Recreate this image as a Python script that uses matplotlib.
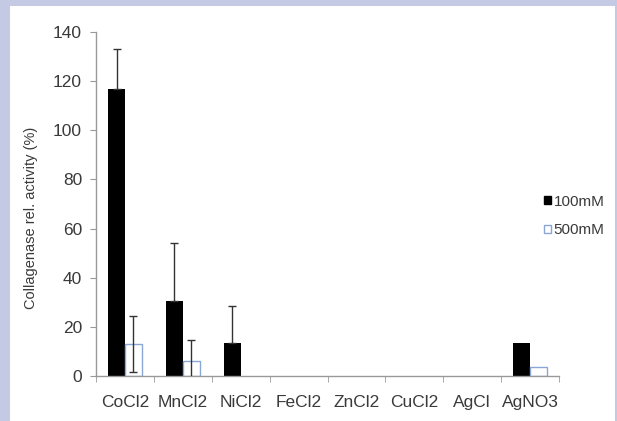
import matplotlib
matplotlib.use("Agg")
import matplotlib.pyplot as plt
from matplotlib.patches import Patch, Rectangle
import numpy as np

# data
salts = ["CoCl2", "MnCl2", "NiCl2", "FeCl2", "ZnCl2", "CuCl2", "AgCl", "AgNO3"]
act_100 = [117, 30.5, 13.3, 0, 0, 0, 0, 13.5]
err_100 = [16, 23.8, 15.3, 0, 0, 0, 0, 0]
act_500 = [13, 6.1, 0, 0, 0, 0, 0, 3.8]
err_500 = [11.5, 8.5, 0, 0, 0, 0, 0, 0]
series_labels = ["100mM", "500mM"]

plt.rcParams['font.family'] = ['Liberation Sans', 'DejaVu Sans']
txt = "#3a3a3a"
blue = "#8aa6d6"

fig = plt.figure(figsize=(6.17, 4.21), dpi=100)
fig.patch.set_facecolor("#c5cae4")
# white panel inside the lavender frame
fig.patches.append(Rectangle((10/617, 0), (615-10)/617, (421-6)/421,
                             transform=fig.transFigure, facecolor="white",
                             edgecolor="none", zorder=0))

ax = fig.add_axes([96/617, 1-376/421, (559-96)/617, (376-32)/421])
ax.set_facecolor("none")
ax.set_zorder(2)

x = np.arange(len(salts))
w = 0.29
a100, e100 = np.array(act_100), np.array(err_100)
a500, e500 = np.array(act_500), np.array(err_500)

# only draw bars that are above zero (zero ones are invisible in the original)
m = a100 > 0
ax.bar(x[m] - w/2, a100[m], w, color="black", linewidth=0, zorder=2)
m = a500 > 0
ax.bar(x[m] + w/2, a500[m], w, color="white", edgecolor=blue, linewidth=1.0, zorder=2)

ek = dict(fmt="none", ecolor="#333333", elinewidth=1, capsize=3, capthick=1, zorder=3)
m = e100 > 0
ax.errorbar(x[m] - w/2, a100[m], yerr=[np.zeros(m.sum()), e100[m]], **ek)
m = e500 > 0
ax.errorbar(x[m] + w/2, a500[m], yerr=e500[m], **ek)

ax.set_xlim(-0.5, len(salts) - 0.5)
ax.set_ylim(0, 140)
ax.set_yticks(range(0, 141, 20))
ax.set_xticks(x)
ax.set_xticklabels(salts)
ax.set_xticks(np.arange(-0.5, len(salts), 1), minor=True)
ax.tick_params(axis="x", which="major", length=0, pad=14, labelsize=12.5, colors=txt)
ax.tick_params(axis="x", which="minor", length=4, color="#999999")
ax.tick_params(axis="y", length=4, color="#999999", labelsize=12.5, labelcolor=txt, pad=6)

for s in ["top", "right"]:
    ax.spines[s].set_visible(False)
for s in ["left", "bottom"]:
    ax.spines[s].set_color("#999999")
    ax.spines[s].set_linewidth(1)

ax.set_ylabel("Collagenase rel. activity (%)", fontsize=10.5, color=txt)
ax.yaxis.set_label_coords((38-96)/463, (376-218)/344)

handles = [Patch(facecolor="black", edgecolor="black"),
           Patch(facecolor="white", edgecolor=blue)]
leg = fig.legend(handles, series_labels, loc="center left", bbox_to_anchor=(530/617, 1-216/421),
                 frameon=False, fontsize=11, handlelength=0.45, handleheight=0.45,
                 handletextpad=0.2, labelspacing=0.95, labelcolor=txt)
leg.set_zorder(5)

fig.savefig("out.png", dpi=100, facecolor=fig.get_facecolor())
